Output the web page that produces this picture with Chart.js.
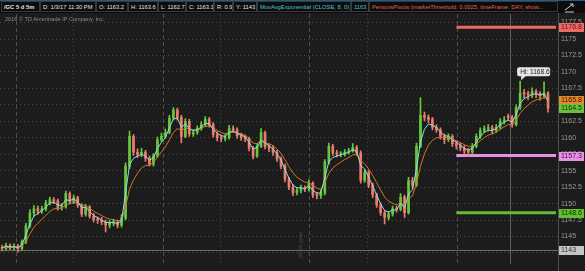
<!DOCTYPE html>
<html><head><meta charset="utf-8">
<script src="https://cdn.jsdelivr.net/npm/chart.js@4.4.0/dist/chart.umd.min.js"></script>
<style>
html,body{margin:0;padding:0;background:#1c1c1c;width:585px;height:271px;overflow:hidden;font-family:"Liberation Sans",Arial,sans-serif;}
#cv{position:absolute;left:0;top:0;}
#hdr{position:absolute;left:0;top:0;width:585px;height:13px;background:#0c0c0c;border-top:1px solid #1f5f8f;box-sizing:border-box;}
.c{position:absolute;top:0;height:11px;line-height:10px;font-size:5.8px;color:#e4e4e4;border:1px solid #3a3a3a;box-sizing:border-box;padding-left:2px;white-space:nowrap;overflow:hidden;}
#copy{position:absolute;left:5px;top:16px;font-size:5.6px;color:#8c8c8c;white-space:nowrap;}
#yr{position:absolute;left:287px;top:242px;font-size:6px;color:#4e4e4e;transform:rotate(-90deg);white-space:nowrap;}
#ico{position:absolute;left:562px;top:1px;}
</style></head>
<body>
<canvas id="cv" width="585" height="271" style="width:585px;height:271px"></canvas>
<div id="hdr">
<span class="c" style="left:1px;width:39px;font-weight:bold;">/GC 5 d 5m</span>
<span class="c" style="left:40px;width:56px;">D: 1/3/17 11:30 PM</span>
<span class="c" style="left:96px;width:32px;">O: 1163.2</span>
<span class="c" style="left:128px;width:30px;">H: 1163.6</span>
<span class="c" style="left:158px;width:28px;">L: 1162.7</span>
<span class="c" style="left:186px;width:28px;">C: 1163.1</span>
<span class="c" style="left:214px;width:19px;">R: 0.9</span>
<span class="c" style="left:233px;width:24px;">Y: 1143</span>
<span class="c" style="left:257px;width:94px;color:#56c2c6;">MovAvgExponential (CLOSE, 8, 0)</span>
<span class="c" style="left:351px;width:18px;color:#56c2c6;">1163</span>
<span class="c" style="left:369px;width:189px;color:#e2605c;">PersonsPivots (marketThreshold: 0.0025, timeFrame: DAY, show...</span>
<svg id="ico" width="14" height="11" viewBox="0 0 14 11"><path d="M3 8 L11 2 M8 2 L11 2 L11 5 M3 10 L12 10" stroke="#cfcfcf" stroke-width="1" fill="none"/></svg>
</div>
<div id="copy">2016 © TD Ameritrade IP Company, Inc.</div>
<div id="yr">2016 year</div>
<script>
// ---- data (5-minute /GC bars, resampled) ----
const opens = [
1143.3,1143.2,1143.6,1143.3,1143.5,1143.2,1144.2,1146.6,1148.6,1149.2,
1148.9,1149.2,1150.1,1150.6,1150.4,1149.4,1149.5,1151.5,1150.3,1150.9,
1149.8,1148.4,1149.5,1148.1,1147.6,1147.5,1147.2,1146.7,1147.0,1147.2,
1146.7,1147.8,1155.7,1160.2,1157.8,1157.5,1157.8,1156.9,1156.0,1157.2,
1159.7,1160.2,1160.8,1163.0,1164.2,1163.1,1160.2,1162.5,1160.6,1160.8,
1161.4,1162.0,1162.8,1162.0,1160.5,1160.0,1159.9,1160.0,1161.4,1161.2,
1160.3,1160.0,1159.9,1158.4,1157.2,1158.7,1160.8,1158.7,1158.4,1157.8,
1156.8,1155.7,1153.7,1152.5,1151.7,1152.0,1152.3,1152.2,1153.1,1151.3,
1151.2,1151.6,1156.3,1158.7,1157.7,1157.5,1157.5,1157.8,1158.0,1158.5,
1157.7,1153.5,1154.7,1152.8,1151.3,1149.8,1148.6,1147.9,1148.4,1149.2,
1149.1,1151.0,1148.6,1153.5,1152.8,1158.7,1163.4,1163.1,1162.8,1161.6,
1161.2,1160.2,1159.7,1160.2,1159.1,1158.8,1158.4,1158.0,1157.8,1158.7,
1160.2,1161.1,1161.4,1161.5,1161.1,1161.6,1162.5,1163.2,1163.1,1162.0,
1164.6,1166.8,1166.7,1166.5,1167.0,1166.7,1166.4,1166.8];
const highs = [
1143.7,1144.0,1143.9,1143.9,1143.8,1144.5,1147.0,1149.1,1149.7,1149.6,
1149.6,1150.5,1151.0,1150.9,1150.7,1150.0,1151.9,1151.8,1151.3,1151.1,
1150.0,1149.9,1149.7,1148.5,1148.0,1147.9,1147.5,1147.4,1147.6,1147.5,
1148.3,1156.2,1161.0,1160.5,1158.3,1158.4,1158.1,1157.2,1157.6,1160.1,
1160.7,1161.3,1163.4,1164.6,1164.5,1163.4,1162.9,1162.8,1161.2,1161.8,
1162.4,1163.2,1163.1,1162.3,1160.9,1160.4,1160.5,1161.9,1161.8,1161.5,
1160.7,1160.4,1160.1,1158.7,1159.1,1161.4,1161.0,1159.1,1158.8,1158.1,
1157.1,1156.0,1154.0,1152.9,1152.4,1152.8,1152.7,1153.6,1153.3,1151.7,
1152.0,1156.7,1159.2,1159.0,1158.1,1157.9,1158.2,1158.4,1159.1,1158.8,
1158.0,1155.1,1155.0,1153.1,1151.6,1150.1,1148.9,1148.8,1149.6,1149.6,
1151.5,1151.3,1154.0,1154.0,1159.2,1166.1,1163.9,1163.5,1163.1,1162.0,
1161.5,1160.6,1160.6,1160.5,1159.5,1159.2,1158.8,1158.4,1159.1,1160.6,
1161.5,1161.8,1162.0,1161.9,1162.0,1162.9,1163.2,1163.6,1163.4,1165.0,
1168.6,1167.3,1167.1,1167.6,1167.3,1167.0,1168.5,1167.0];
const lows = [
1142.8,1142.9,1143.0,1142.9,1142.6,1142.9,1143.9,1146.3,1148.1,1148.4,
1148.5,1148.9,1149.8,1150.0,1149.0,1149.0,1149.3,1150.0,1150.0,1149.4,
1148.0,1148.1,1147.8,1147.2,1147.0,1146.8,1145.7,1146.3,1146.6,1146.3,
1146.4,1147.5,1155.3,1157.3,1157.0,1157.1,1156.4,1155.7,1155.7,1157.0,
1159.4,1159.9,1160.6,1162.7,1162.7,1159.2,1160.0,1160.2,1160.2,1160.5,
1161.1,1161.7,1161.6,1160.1,1159.5,1159.4,1159.5,1159.8,1160.8,1159.9,
1159.6,1159.4,1158.0,1156.8,1157.0,1158.5,1158.3,1157.9,1157.3,1156.4,
1155.3,1153.3,1152.1,1151.2,1151.3,1151.6,1151.8,1151.9,1150.9,1150.7,
1150.8,1151.3,1156.0,1157.3,1157.1,1157.1,1157.2,1157.5,1157.8,1157.3,
1153.1,1153.2,1152.4,1150.9,1149.4,1148.2,1146.9,1147.5,1148.1,1148.7,
1148.9,1147.9,1148.4,1152.3,1152.6,1158.5,1162.6,1162.3,1161.2,1160.8,
1159.8,1159.1,1159.4,1158.7,1158.3,1158.0,1157.4,1157.2,1157.5,1158.5,
1159.9,1160.8,1161.0,1160.6,1160.8,1161.3,1162.1,1162.7,1161.6,1161.8,
1164.3,1166.0,1165.8,1166.1,1166.1,1165.7,1166.0,1163.9];
const closes = [
1143.2,1143.6,1143.3,1143.5,1143.2,1144.2,1146.6,1148.6,1149.2,1148.9,
1149.2,1150.1,1150.6,1150.4,1149.4,1149.5,1151.5,1150.3,1150.9,1149.8,
1148.4,1149.5,1148.1,1147.6,1147.5,1147.2,1146.7,1147.0,1147.2,1146.7,
1147.8,1155.7,1160.2,1157.8,1157.5,1157.8,1156.9,1156.0,1157.2,1159.7,
1160.2,1160.8,1163.0,1164.2,1163.1,1160.2,1162.5,1160.6,1160.8,1161.4,
1162.0,1162.8,1162.0,1160.5,1160.0,1159.9,1160.0,1161.4,1161.2,1160.3,
1160.0,1159.9,1158.4,1157.2,1158.7,1160.8,1158.7,1158.4,1157.8,1156.8,
1155.7,1153.7,1152.5,1151.7,1152.0,1152.3,1152.2,1153.1,1151.3,1151.2,
1151.6,1156.3,1158.7,1157.7,1157.5,1157.5,1157.8,1158.0,1158.5,1157.7,
1153.5,1154.7,1152.8,1151.3,1149.8,1148.6,1147.9,1148.4,1149.2,1149.1,
1151.0,1148.6,1153.5,1152.8,1158.7,1163.4,1163.1,1162.8,1161.6,1161.2,
1160.2,1159.7,1160.2,1159.1,1158.8,1158.4,1158.0,1157.8,1158.7,1160.2,
1161.1,1161.4,1161.5,1161.1,1161.6,1162.5,1162.7,1163.1,1162.0,1164.6,
1166.8,1166.7,1166.5,1167.0,1166.7,1166.4,1166.8,1164.5];
// MovAvgExponential (CLOSE, 8) — cyan
const emaFast = [
1143.3,1143.5,1143.4,1143.45,1143.3,1143.75,1145.2,1146.9,1148.1,1148.5,
1148.9,1149.5,1150.05,1150.25,1149.8,1149.7,1150.6,1150.45,1150.7,1150.3,
1149.35,1149.45,1148.8,1148.2,1147.85,1147.5,1147.15,1147.1,1147.15,1146.95,
1147.4,1151.6,1155.9,1156.9,1157.2,1157.5,1157.2,1156.6,1156.95,1158.35,
1159.3,1160.05,1161.5,1162.85,1163.0,1161.6,1162.1,1161.4,1161.1,1161.25,
1161.6,1162.2,1162.1,1161.3,1160.7,1160.3,1160.2,1160.8,1161.0,1160.7,
1160.4,1160.15,1159.3,1158.3,1158.5,1159.65,1159.2,1158.8,1158.3,1157.55,
1156.65,1155.2,1153.85,1152.8,1152.4,1152.4,1152.3,1152.7,1152.0,1151.6,
1151.6,1154.0,1156.35,1157.0,1157.25,1157.4,1157.6,1157.8,1158.2,1157.95,
1155.75,1155.25,1154.0,1152.7,1151.3,1149.95,1148.95,1148.7,1149.0,1149.05,
1150.05,1149.35,1151.45,1152.1,1155.4,1159.4,1161.3,1162.1,1161.9,1161.55,
1160.9,1160.3,1160.25,1159.7,1159.3,1158.85,1158.4,1158.1,1158.4,1159.3,
1160.2,1160.8,1161.15,1161.1,1161.4,1162.0,1162.35,1162.7,1162.35,1163.5,
1165.2,1165.95,1166.25,1166.6,1166.65,1166.5,1166.7,1165.6];
// slower moving average — orange
const emaSlow = [
1143.25,1143.35,1143.35,1143.4,1143.35,1143.55,1144.3,1145.4,1146.4,1147.0,
1147.6,1148.2,1148.8,1149.2,1149.25,1149.3,1149.85,1149.95,1150.2,1150.1,
1149.7,1149.65,1149.25,1148.85,1148.5,1148.2,1147.85,1147.65,1147.55,1147.35,
1147.45,1149.5,1152.2,1153.6,1154.6,1155.4,1155.8,1155.85,1156.2,1157.1,
1157.85,1158.6,1159.7,1160.8,1161.4,1161.1,1161.5,1161.3,1161.15,1161.2,
1161.4,1161.75,1161.8,1161.5,1161.1,1160.8,1160.6,1160.8,1160.9,1160.75,
1160.55,1160.4,1159.9,1159.2,1159.1,1159.5,1159.3,1159.1,1158.8,1158.3,
1157.65,1156.65,1155.6,1154.65,1154.0,1153.6,1153.25,1153.2,1152.75,1152.35,
1152.15,1153.2,1154.6,1155.4,1155.9,1156.3,1156.7,1157.0,1157.4,1157.5,
1156.5,1156.05,1155.25,1154.3,1153.2,1152.05,1151.0,1150.35,1150.05,1149.8,
1150.1,1149.75,1150.7,1151.2,1153.1,1155.7,1157.55,1158.9,1159.6,1160.0,
1160.05,1160.0,1160.05,1159.8,1159.55,1159.25,1158.95,1158.7,1158.7,1159.05,
1159.55,1160.0,1160.4,1160.6,1160.85,1161.3,1161.65,1162.0,1162.0,1162.65,
1163.7,1164.45,1164.95,1165.45,1165.75,1165.9,1166.15,1165.8];
// PersonsPivots for the current day
const pivotR1 = 1176.8, pivotPP = 1157.3, pivotS1 = 1148.6;
const pivotStartBar = 114;
const padBars = 2;
const yTicks = [1142.5,1145,1147.5,1150,1152.5,1155,1157.5,1160,1162.5,1165,1167.5,1170,1172.5,1175,1177.5];
const sessionBreaks = [3.5, 40.4, 77, 114.2];   // dashed day separators (bar positions)
const midnightMarks = [17.8, 54.7, 91.6];       // dotted separators (bar positions)
const crossBar = 127.5, crossPrice = 1143;
const hiBar = 130, hiPrice = 1168.6;
const lastClose = 1164.5, lastSlow = 1165.8;

const UP = '#66c93a', DOWN = '#f07a6e';
const nBars = closes.length;
const labels = Array.from({length: nBars + padBars}, (_, i) => 'b' + i);
const barColors = closes.map((c, i) => c >= opens[i] ? UP : DOWN);
const pivotSeries = v => labels.map((_, i) => i >= pivotStartBar ? v : null);

const FONT = '"Liberation Sans", Arial, sans-serif';

const overlay = {
  id: 'overlay',
  beforeDatasetsDraw(chart) {
    const {ctx, chartArea: a, scales: {x, y}} = chart;
    ctx.save();
    ctx.lineWidth = 1;
    const vline = (v, color, dash) => {
      const px = Math.round(x.getPixelForValue(v)) + 0.5;
      ctx.strokeStyle = color; ctx.setLineDash(dash);
      ctx.beginPath(); ctx.moveTo(px, a.top); ctx.lineTo(px, a.bottom); ctx.stroke();
    };
    sessionBreaks.forEach(v => vline(v, '#505050', [4, 3]));
    midnightMarks.forEach(v => vline(v, '#4a4a4a', [1, 3]));
    vline(crossBar, '#5f5f5f', []);
    const cy = Math.round(y.getPixelForValue(crossPrice)) + 0.5;
    ctx.strokeStyle = '#6a6a6a'; ctx.setLineDash([]);
    ctx.beginPath(); ctx.moveTo(a.left, cy); ctx.lineTo(a.right, cy); ctx.stroke();
    ctx.restore();
  },
  afterDraw(chart) {
    const {ctx, chartArea: a, scales: {x, y}} = chart;
    ctx.save();
    // axis line
    ctx.strokeStyle = '#4e4e4e'; ctx.lineWidth = 1;
    ctx.beginPath(); ctx.moveTo(a.right + 0.5, 13); ctx.lineTo(a.right + 0.5, 271); ctx.stroke();
    // value bubbles on the price axis
    const tags = [
      [pivotR1, '#ec6a66', '#5a1210'],
      [lastSlow, '#e5882c', '#2a1600'],
      [lastClose, '#69c23e', '#0f2a06'],
      [pivotPP, '#e890e8', '#3a0f3a'],
      [pivotS1, '#62bf34', '#0f2a06'],
      [crossPrice, '#c4c4c4', '#333333']
    ];
    ctx.font = '7px ' + FONT;
    ctx.textBaseline = 'middle';
    tags.forEach(([v, bg, fg]) => {
      const py = Math.round(y.getPixelForValue(v));
      ctx.fillStyle = bg;
      ctx.fillRect(a.right + 1, py - 4, 25, 9);
      ctx.fillStyle = fg;
      ctx.fillText(String(v), a.right + 3, py + 0.5);
    });
    // Hi bubble
    const hx = x.getPixelForValue(hiBar), hy = y.getPixelForValue(hiPrice);
    const bx = hx - 3, by = hy - 14, bw = 33, bh = 9;
    ctx.fillStyle = '#e4e4e4';
    ctx.beginPath();
    ctx.roundRect(bx, by, bw, bh, 2);
    ctx.fill();
    ctx.beginPath();
    ctx.moveTo(hx + 1, by + bh - 0.5); ctx.lineTo(hx + 6, by + bh - 0.5); ctx.lineTo(hx + 1, hy - 1); ctx.closePath(); ctx.fill();
    ctx.fillStyle = '#222';
    ctx.font = '6.6px ' + FONT;
    ctx.fillText('Hi: ' + hiPrice, bx + 3, by + bh / 2 + 0.5);
    ctx.restore();
  }
};

new Chart(document.getElementById('cv'), {
  type: 'bar',
  data: {
    labels: labels,
    datasets: [
      { type: 'line', data: pivotSeries(pivotR1), borderColor: '#ec6a66', borderWidth: 3, pointRadius: 0, order: 6 },
      { type: 'line', data: pivotSeries(pivotPP), borderColor: '#e890e8', borderWidth: 3, pointRadius: 0, order: 6 },
      { type: 'line', data: pivotSeries(pivotS1), borderColor: '#62bf34', borderWidth: 3, pointRadius: 0, order: 6 },
      { data: lows.map((l, i) => [l, highs[i]]), backgroundColor: barColors, barThickness: 1, grouped: false, order: 5 },
      { data: opens.map((o, i) => [o, closes[i]]), backgroundColor: barColors, barThickness: 2, minBarLength: 1, grouped: false, order: 4 },
      { type: 'line', data: emaSlow, borderColor: '#cf7a22', borderWidth: 1, pointRadius: 0, tension: 0, order: 2 },
      { type: 'line', data: emaFast, borderColor: '#8fdde6', borderWidth: 1, pointRadius: 0, tension: 0, order: 1 }
    ]
  },
  options: {
    responsive: false,
    animation: false,
    layout: { padding: { top: 14, left: 0, right: 0, bottom: 0 } },
    plugins: { legend: { display: false }, tooltip: { enabled: false } },
    scales: {
      x: { display: false, offset: true, grid: { display: false } },
      y: {
        position: 'right', min: 1140.85, max: 1178.8,
        afterBuildTicks: s => { s.ticks = yTicks.map(v => ({ value: v })); },
        afterFit: s => { s.width = 27; },
        ticks: { color: '#9a9a9a', font: { size: 7, family: FONT }, padding: 3, callback: v => String(v) },
        grid: { color: '#474747', drawTicks: false, lineWidth: 1 },
        border: { display: false, dash: [1, 3] }
      }
    }
  },
  plugins: [overlay]
});
</script>
</body></html>
